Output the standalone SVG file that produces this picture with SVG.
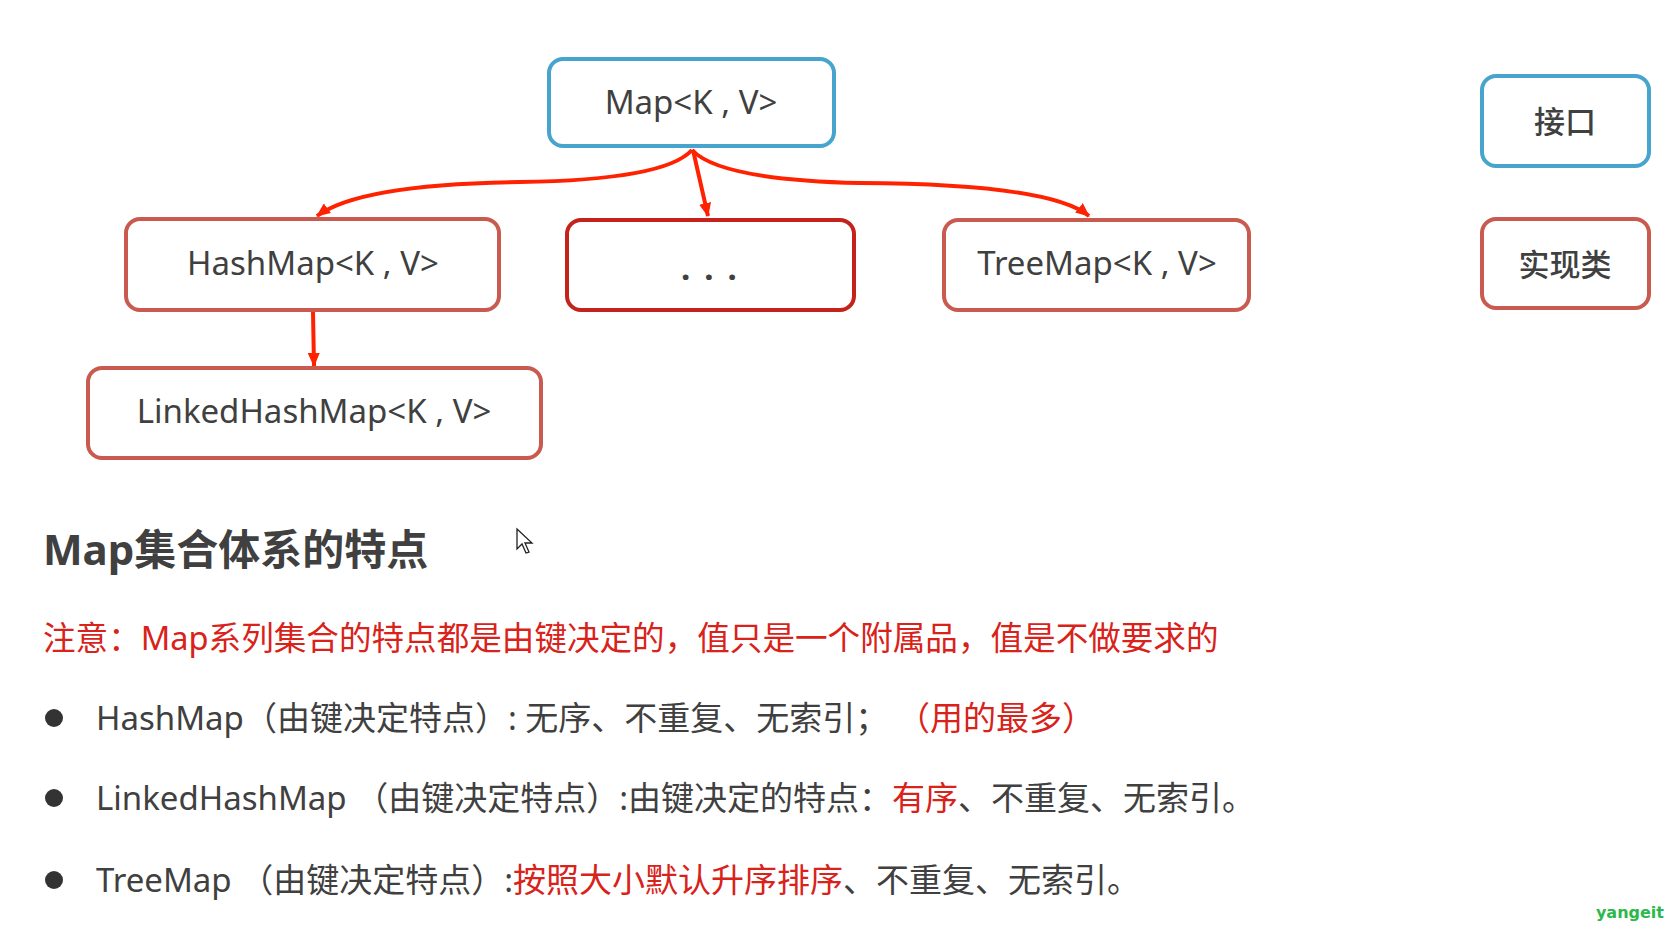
<svg xmlns="http://www.w3.org/2000/svg" width="1676" height="933" viewBox="0 0 1676 933">
<style>
.t{font-family:"Noto Sans","Noto Sans CJK SC",sans-serif;fill:#404040}
.node{font-size:33px;text-anchor:middle}
.blue{fill:#fff;stroke:#47a4cc;stroke-width:4}
.cls{fill:#fff;stroke:#c95a50;stroke-width:4}
.dark{fill:#fff;stroke:#c4221a;stroke-width:4}
.line{font-size:33px}
.conn{fill:none;stroke:#ff2200;stroke-width:4}
</style>
<defs>
<marker id="ah" viewBox="0 0 14 12" refX="13" refY="6" markerWidth="14" markerHeight="12" markerUnits="userSpaceOnUse" orient="auto">
<path d="M0,0 L14,6 L0,12 Z" fill="#ff2200"/>
</marker>
</defs>
<rect width="1676" height="933" fill="#fff"/>
<g id="connectors">
<path class="conn" marker-end="url(#ah)" d="M692,150 Q665,180 520,182 Q360,184 317,216"/>
<path class="conn" marker-end="url(#ah)" d="M693,150 L708,216"/>
<path class="conn" marker-end="url(#ah)" d="M692,150 Q720,180 860,183 Q1050,184 1089,216"/>
<path class="conn" marker-end="url(#ah)" d="M313,312 L314,366"/>
</g>
<g id="map">
<rect class="blue" x="549" y="59" width="285" height="87" rx="14"/>
<text class="t node" x="691" y="114">Map&lt;K , V&gt;</text>
</g>
<g id="hashmap">
<rect class="cls" x="126" y="219" width="373" height="91" rx="14"/>
<text class="t node" x="313" y="275">HashMap&lt;K , V&gt;</text>
</g>
<g id="etc">
<rect class="dark" x="567" y="220" width="287" height="90" rx="14"/>
<text class="t node" x="716" y="280" font-weight="bold" letter-spacing="14">...</text>
</g>
<g id="treemap">
<rect class="cls" x="944" y="220" width="305" height="90" rx="14"/>
<text class="t node" x="1097" y="275">TreeMap&lt;K , V&gt;</text>
</g>
<g id="linkedhashmap">
<rect class="cls" x="88" y="368" width="453" height="90" rx="14"/>
<text class="t node" x="314" y="423">LinkedHashMap&lt;K , V&gt;</text>
</g>
<g id="legend-interface">
<rect class="blue" x="1482" y="76" width="167" height="90" rx="14"/>
<text class="t" x="1565" y="133" font-size="31" font-weight="500" text-anchor="middle">接口</text>
</g>
<g id="legend-class">
<rect class="cls" x="1482" y="219" width="167" height="89" rx="14"/>
<text class="t" x="1565" y="276" font-size="31" font-weight="500" text-anchor="middle">实现类</text>
</g>
<g id="text">
<text class="t" x="43" y="565" font-size="42" font-weight="bold">Map集合体系的特点</text>
<text class="t" x="43" y="650" font-size="32.6" style="fill:#d8221a">注意：Map系列集合的特点都是由键决定的，值只是一个附属品，值是不做要求的</text>
<circle cx="54" cy="718" r="9" fill="#333"/>
<circle cx="54" cy="798" r="9" fill="#333"/>
<circle cx="54" cy="880" r="9" fill="#333"/>
<text class="t line" x="96" y="730">HashMap（由键决定特点）: 无序、不重复、无索引；</text>
<text class="t line" x="897" y="730" style="fill:#d8221a">（用的最多）</text>
<text class="t line" x="96" y="810">LinkedHashMap （由键决定特点）:由键决定的特点：<tspan style="fill:#d8221a">有序</tspan>、不重复、无索引。</text>
<text class="t line" x="96" y="892">TreeMap （由键决定特点）:<tspan style="fill:#d8221a">按照大小默认升序排序</tspan>、不重复、无索引。</text>
</g>
<path d="M517,529 L517,549 L522,544 L526,553 L529,552 L525,543 L532,543 Z" fill="#fff" stroke="#222" stroke-width="1.3"/>
<text x="1664" y="918" font-family="DejaVu Sans, sans-serif" font-size="16" font-weight="bold" fill="#2cb84c" text-anchor="end">yangeit</text>
</svg>
